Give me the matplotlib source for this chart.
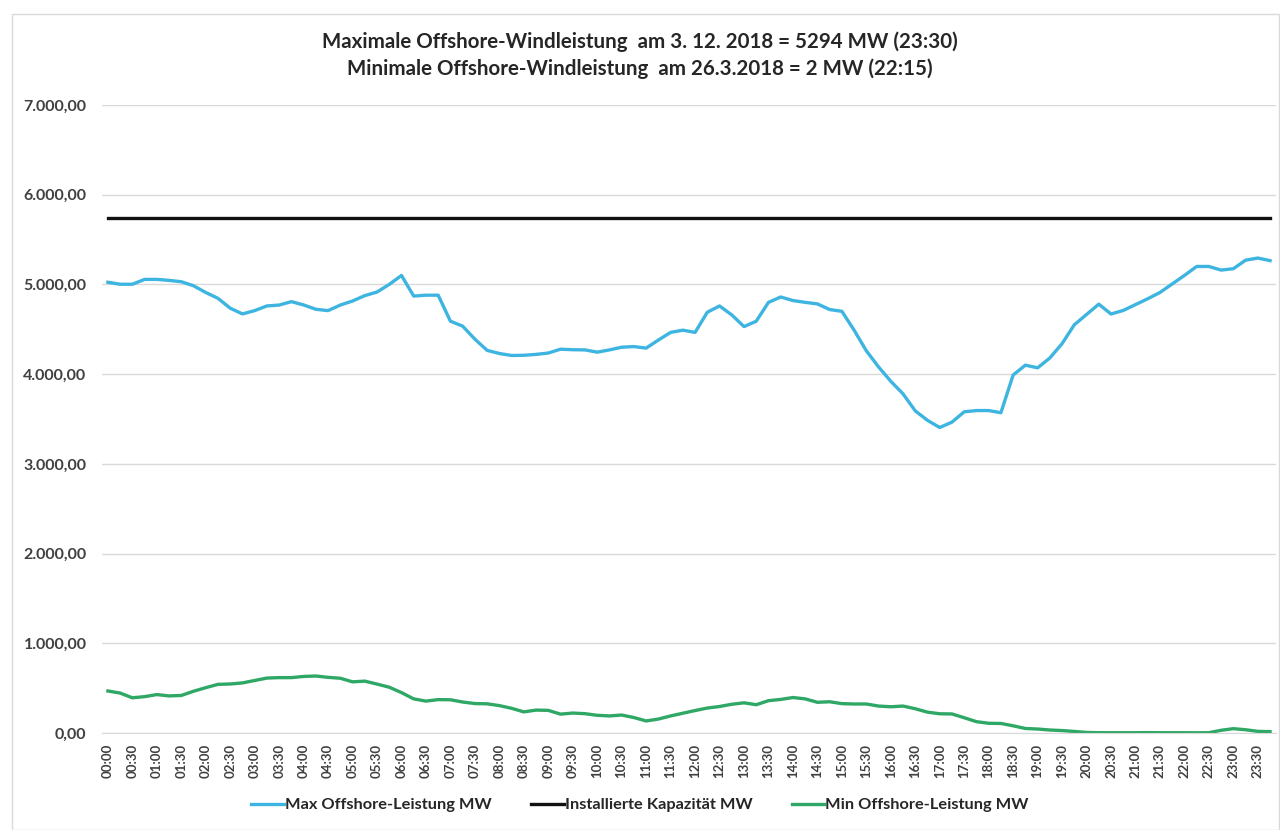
import numpy as np
import matplotlib
matplotlib.use('Agg')
import matplotlib.pyplot as plt
from matplotlib.ticker import FuncFormatter
from matplotlib.patches import Rectangle

plt.rcParams['font.family'] = ['Lato', 'DejaVu Sans']

# Viertelstunden 00:00 .. 23:45
zeiten = ['%02d:%02d' % (h, m) for h in range(24) for m in (0, 15, 30, 45)]

max_leistung = [5024, 5002, 5002, 5056, 5056, 5045, 5030, 4985, 4910, 4845,
                4735, 4671, 4708, 4760, 4770, 4808, 4771, 4723, 4708, 4770,
                4815, 4875, 4915, 5000, 5100, 4870, 4880, 4880, 4590, 4535,
                4390, 4265, 4230, 4208, 4210, 4220, 4235, 4278, 4272, 4270,
                4245, 4270, 4300, 4307, 4290, 4380, 4465, 4490, 4465, 4690,
                4760, 4660, 4530, 4590, 4800, 4860, 4820, 4800, 4783, 4720,
                4700, 4490, 4260, 4080, 3920, 3780, 3590, 3485, 3405, 3465,
                3580, 3594, 3594, 3570, 3990, 4100, 4070, 4180, 4340, 4550,
                4665, 4780, 4670, 4710, 4775, 4840, 4910, 5005, 5100, 5200,
                5200, 5160, 5175, 5270, 5294, 5265]

min_leistung = [468, 445, 392, 405, 428, 413, 418, 465, 505, 542,
                546, 558, 585, 612, 617, 617, 630, 635, 620, 610,
                570, 578, 545, 510, 450, 380, 355, 372, 370, 345,
                328, 325, 305, 275, 235, 255, 252, 210, 222, 215,
                197, 190, 200, 172, 134, 155, 190, 220, 250, 278,
                295, 320, 336, 315, 360, 374, 395, 380, 342, 348,
                327, 323, 323, 300, 292, 300, 270, 232, 214, 212,
                170, 126, 108, 106, 80, 50, 44, 33, 27, 17,
                6, 3, 3, 3, 3, 4, 3, 3, 3, 2,
                3, 30, 48, 36, 18, 15]

kapazitaet = [5740] * len(zeiten)

titel = ['Maximale Offshore-Windleistung  am 3. 12. 2018 = 5294 MW (23:30)',
         'Minimale Offshore-Windleistung  am 26.3.2018 = 2 MW (22:15)']

x = np.arange(len(zeiten))

fig = plt.figure(figsize=(12.8, 8.3), dpi=100)
ax = fig.add_axes([0.0795, 0.1169, 0.9175, 0.7566])

ax.plot(x, max_leistung, color='#3db5e0', lw=2.4, label='Max Offshore-Leistung MW')
ax.plot(x, kapazitaet, color='#111111', lw=2.4, label='Installierte Kapazität MW')
ax.plot(x, min_leistung, color='#2fa866', lw=2.4, label='Min Offshore-Leistung MW')

ax.set_xlim(-0.5, len(zeiten) - 0.5)
ax.set_ylim(0, 7000)
ax.set_yticks(np.arange(0, 7001, 1000))
ax.yaxis.set_major_formatter(FuncFormatter(
    lambda v, p: '{:,.2f}'.format(v).replace(',', 'X').replace('.', ',').replace('X', '.')))
ax.set_xticks(x[::2])
ax.set_xticklabels(zeiten[::2], rotation=90)
ax.grid(axis='y', color='#d9d9d9', lw=1)
ax.set_axisbelow(True)
for s in ['top', 'right', 'left']:
    ax.spines[s].set_visible(False)
ax.spines['bottom'].set_color('#d9d9d9')
ax.tick_params(axis='both', length=0, colors='#404040')
ax.tick_params(axis='y', pad=11, labelsize=11.5)
ax.tick_params(axis='x', pad=8, labelsize=9.5)
for t in ax.get_xticklabels() + ax.get_yticklabels():
    t.set_fontweight('bold')

fig.text(0.5, 1 - 42 / 830, titel[0], ha='center', va='center', fontsize=14.8,
         fontweight='bold', color='#262626')
fig.text(0.5, 1 - 69 / 830, titel[1], ha='center', va='center', fontsize=14.8,
         fontweight='bold', color='#262626')

ax.legend(loc='center', bbox_to_anchor=(0.5, 1 - 805 / 830), bbox_transform=fig.transFigure,
          ncol=3, frameon=False, handlelength=2.0, handletextpad=0.05, columnspacing=2.4,
          prop={'weight': 'bold', 'size': 11.8})
for t in ax.get_legend().get_texts():
    t.set_color('#262626')

fig.patches.append(Rectangle((12 / 1280, 0.0), 1 - 13 / 1280, 1 - 14 / 830,
                             transform=fig.transFigure, fill=False,
                             edgecolor='#d9d9d9', lw=1))

plt.savefig('out.png', dpi=100)
